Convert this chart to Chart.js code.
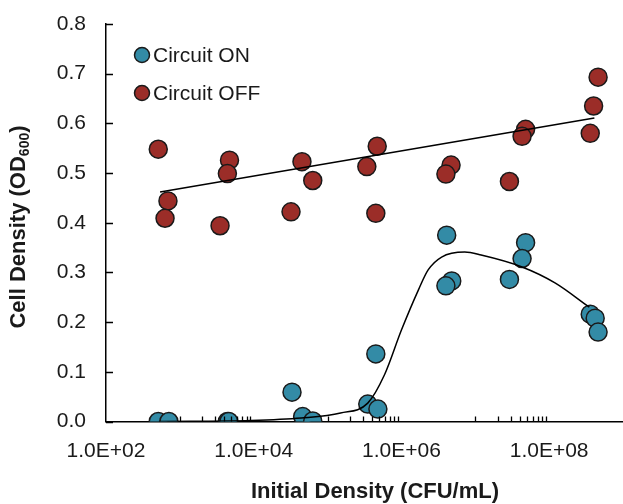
<!DOCTYPE html>
<html>
<head>
<meta charset="utf-8">
<script src="https://cdn.jsdelivr.net/npm/chart.js@4.4.1/dist/chart.umd.min.js"></script>
<style>
  body { margin: 0; background: #fff; }
  #chart { display: block; }
</style>
</head>
<body>
<canvas id="chart" width="623" height="504"></canvas>
<script>
// Circuit ON points (initial density in CFU/mL, OD600)
var densityOn = [5.1e2, 7.1e2, 4.4e3, 4.6e3, 3.3e4, 4.6e4, 6.3e4, 3.5e5, 4.8e5, 4.5e5,
                 4.1e6, 4.8e6, 4.0e6, 4.8e7, 4.3e7, 2.9e7, 3.6e8, 4.2e8, 4.6e8];
var odOn = [0.0, 0.0, 0.0, 0.0, 0.059, 0.010, 0.001, 0.035, 0.025, 0.136,
            0.375, 0.283, 0.273, 0.360, 0.328, 0.286, 0.216, 0.208, 0.180];

// Circuit OFF points
var densityOff = [5.1e2, 6.9e2, 6.3e2, 4.7e3, 4.4e3, 3.5e3, 4.5e4, 6.3e4, 3.2e4, 4.7e5,
                  3.4e5, 4.5e5, 4.7e6, 4.0e6, 2.9e7, 4.8e7, 4.3e7, 4.6e8, 4.0e8, 3.6e8];
var odOff = [0.548, 0.444, 0.409, 0.526, 0.499, 0.394, 0.523, 0.485, 0.422, 0.554,
             0.513, 0.419, 0.516, 0.498, 0.483, 0.588, 0.574, 0.693, 0.635, 0.580];

// fitted curves
var fitOnDensity = [5.2e2, 9.1e3, 4.4e4, 1.5e5, 3.5e5, 5.9e5, 1.0e6, 1.7e6, 2.3e6, 3.5e6,
                    7.2e6, 1.2e7, 4.3e7, 1.2e8, 3.5e8];
var fitOnOD = [0.0, 0.002, 0.007, 0.017, 0.037, 0.094, 0.184, 0.265, 0.305, 0.331,
               0.341, 0.335, 0.311, 0.279, 0.230];
var fitOffDensity = [5.4e2, 4.1e8];
var fitOffOD = [0.462, 0.611];

// axes
var xTickValues = [1e2, 1e4, 1e6, 1e8];
var xTickLabels = ['1.0E+02', '1.0E+04', '1.0E+06', '1.0E+08'];
var xMinorTicks = [1e3, 2e3, 3e3, 4e3, 5e3, 6e3, 7e3, 8e3, 9e3,
                   1e5, 2e5, 3e5, 4e5, 5e5, 6e5, 7e5, 8e5, 9e5,
                   1e7, 2e7, 3e7, 4e7, 5e7, 6e7, 7e7, 8e7, 9e7];
var yTickValues = [0, 0.1, 0.2, 0.3, 0.4, 0.5, 0.6, 0.7, 0.8];
var yTickLabels = ['0.0', '0.1', '0.2', '0.3', '0.4', '0.5', '0.6', '0.7', '0.8'];

var blue = '#338ba6';
var red = '#9b2d28';
var fontFamily = '"Liberation Sans", Arial, sans-serif';

function toPoints(xs, ys) {
    return xs.map(function(x, i) { return {x: x, y: ys[i]}; });
}

// inward ticks, axis titles and the legend
var extras = {
    id: 'extras',
    afterDraw: function(chart) {
        var ctx = chart.ctx;
        var xs = chart.scales.x, ys = chart.scales.y;
        var area = chart.chartArea;
        ctx.save();
        ctx.strokeStyle = '#000';
        ctx.lineWidth = 1.3;
        ctx.beginPath();
        xMinorTicks.forEach(function(v) {
            var px = Math.round(xs.getPixelForValue(v)) + 0.5;
            ctx.moveTo(px, area.bottom);
            ctx.lineTo(px, area.bottom - 5);
        });
        yTickValues.forEach(function(v) {
            var py = Math.round(ys.getPixelForValue(v)) + 0.5;
            ctx.moveTo(area.left, py);
            ctx.lineTo(area.left + 7, py);
        });
        ctx.stroke();

        // legend
        ctx.font = '21px ' + fontFamily;
        ctx.textBaseline = 'middle';
        ctx.textAlign = 'left';
        var row = 0;
        chart.data.datasets.forEach(function(ds) {
            if (!ds.inLegend) return;
            var cy = 55 + row * 38;
            ctx.beginPath();
            ctx.arc(142, cy, 7.5, 0, Math.PI * 2);
            ctx.fillStyle = ds.backgroundColor;
            ctx.fill();
            ctx.lineWidth = 1.5;
            ctx.strokeStyle = '#1a1a1a';
            ctx.stroke();
            ctx.fillStyle = '#1a1a1a';
            ctx.fillText(ds.label, 153, cy + 1);
            row++;
        });

        // x title
        ctx.font = 'bold 22px ' + fontFamily;
        ctx.textAlign = 'center';
        ctx.fillText('Initial Density (CFU/mL)', 375, 492);

        // y title with subscript
        ctx.translate(19, 227);
        ctx.rotate(-Math.PI / 2);
        var main = 'Cell Density (OD';
        var sub = '600';
        var tail = ')';
        ctx.font = 'bold 22px ' + fontFamily;
        var wMain = ctx.measureText(main).width;
        var wTail = ctx.measureText(tail).width;
        ctx.font = 'bold 14px ' + fontFamily;
        var wSub = ctx.measureText(sub).width;
        var start = -(wMain + wSub + wTail) / 2;
        ctx.textAlign = 'left';
        ctx.font = 'bold 22px ' + fontFamily;
        ctx.fillText(main, start, 0);
        ctx.font = 'bold 14px ' + fontFamily;
        ctx.fillText(sub, start + wMain, 6);
        ctx.font = 'bold 22px ' + fontFamily;
        ctx.fillText(tail, start + wMain + wSub, 0);
        ctx.restore();
    }
};

var scatterStyle = {
    pointRadius: 9,
    pointHoverRadius: 9,
    borderWidth: 1.5,
    borderColor: '#1a1a1a'
};

new Chart(document.getElementById('chart'), {
    type: 'scatter',
    data: {
        datasets: [
            {
                type: 'line', label: 'fit ON', data: toPoints(fitOnDensity, fitOnOD),
                borderColor: '#000', borderWidth: 1.5, pointRadius: 0,
                cubicInterpolationMode: 'monotone', fill: false, order: 0
            },
            {
                type: 'line', label: 'fit OFF', data: toPoints(fitOffDensity, fitOffOD),
                borderColor: '#000', borderWidth: 1.5, pointRadius: 0, fill: false, order: 0
            },
            Object.assign({
                label: 'Circuit ON', data: toPoints(densityOn, odOn),
                backgroundColor: blue, inLegend: true, order: 1
            }, scatterStyle),
            Object.assign({
                label: 'Circuit OFF', data: toPoints(densityOff, odOff),
                backgroundColor: red, inLegend: true, order: 2
            }, scatterStyle)
        ]
    },
    options: {
        responsive: false,
        animation: false,
        layout: { autoPadding: false, padding: { top: 24, right: 0, left: 0, bottom: 0 } },
        plugins: {
            legend: { display: false },
            tooltip: { enabled: false }
        },
        scales: {
            x: {
                type: 'logarithmic',
                min: 1e2,
                max: 1e9,
                afterBuildTicks: function(scale) {
                    scale.ticks = xTickValues.map(function(v) { return {value: v}; });
                },
                afterFit: function(scale) {
                    scale.height = 82.5;
                    scale.paddingLeft = 0;
                    scale.paddingRight = 0;
                },
                grid: { display: false, drawTicks: false },
                border: { display: true, color: '#000', width: 1.5 },
                ticks: {
                    padding: 17,
                    color: '#1a1a1a',
                    font: { family: fontFamily, size: 21 },
                    maxRotation: 0,
                    autoSkip: false,
                    callback: function(v) {
                        var i = xTickValues.indexOf(v);
                        return i < 0 ? '' : xTickLabels[i];
                    }
                }
            },
            y: {
                min: 0,
                max: 0.8,
                afterBuildTicks: function(scale) {
                    scale.ticks = yTickValues.map(function(v) { return {value: v}; });
                },
                afterFit: function(scale) {
                    scale.width = 106;
                    scale.paddingTop = 0;
                    scale.paddingBottom = 0;
                },
                grid: { display: false, drawTicks: false },
                border: { display: true, color: '#000', width: 1.5 },
                ticks: {
                    padding: 20,
                    color: '#1a1a1a',
                    font: { family: fontFamily, size: 21 },
                    callback: function(v) {
                        var i = yTickValues.indexOf(v);
                        return i < 0 ? '' : yTickLabels[i];
                    }
                }
            }
        }
    },
    plugins: [extras]
});
</script>
</body>
</html>
